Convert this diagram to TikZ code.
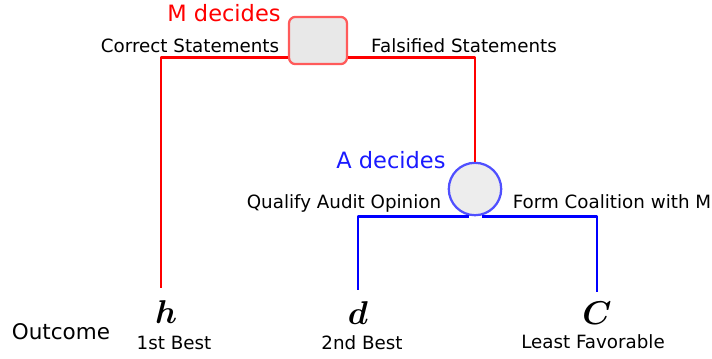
\documentclass[tikz,border=0pt]{standalone}
\usepackage{amsmath}
\usepackage{fontspec}
\setmainfont{DejaVu Sans}
\usepackage{xcolor}
\usepackage{tikz}
\usetikzlibrary{positioning}
\definecolor{mrot}{HTML}{FF0000}
\definecolor{mrand}{HTML}{FF5A5A}
\definecolor{ablau}{HTML}{0000FF}
\definecolor{arand}{HTML}{5050FF}
\definecolor{ftext}{HTML}{1A1AFF}
\tikzset{
  MLinie/.style={draw=mrot,line width=1.9pt,shorten >=#1}, % rote Aeste
  ALinie/.style={draw=ablau,line width=1.9pt,shorten >=#1}, % blaue Aeste
  Beschr/.style={font=\fontsize{13}{15}\selectfont,inner sep=0pt,anchor=base},
  Spieler/.style={font=\fontsize{16}{19}\selectfont,inner sep=0pt,anchor=base},
  Ergebnis/.style={font=\fontsize{20.74}{25}\selectfont,scale=1.13,inner sep=0pt,anchor=base}
}

\begin{document}
\begin{tikzpicture}[x=0.25mm,y=-0.25mm,
line join=round
]
\useasboundingbox (0,0) rectangle (712,358);

%Entscheidungsknoten
\node[draw=mrand,fill=black!9,line width=1.6pt,rounded corners=1.6mm,
  minimum width=14.5mm,minimum height=11.8mm,inner sep=0pt] (M) at (318,40.5) {};
\node[circle,draw=arand,fill=black!7,line width=1.6pt,
  minimum size=13.1mm,inner sep=0pt] (A) at (475,189) {};

\node[Spieler,text=mrot] (Mtxt) at (224,21) {M decides};
\node[Spieler,text=ftext] (Atxt) at (391,168) {A decides};

%Ergebnisse
\node[Ergebnis] (h) at (166,323) {$\boldsymbol{h}$};
\node[Ergebnis] (d) at (358,324) {$\boldsymbol{d}$};
\node[Ergebnis] (C) at (597,324) {$\boldsymbol{C}$};

\node[Beschr,font=\fontsize{15.3}{18}\selectfont] (out) at (61,339) {Outcome};
\node[Beschr] (e1) at (174,349) {1st Best};
\node[Beschr] (e2) at (362,349) {2nd Best};
\node[Beschr] (e3) at (593,348) {Least Favorable};

%Aeste
\draw[MLinie=3.0mm] ([yshift=2mm]M.south west) -| ([xshift=-1.25mm]h.north);
\draw[MLinie=0mm] ([yshift=2mm]M.south east) -| (A.north);
\draw[ALinie=2.6mm] ([xshift=-1.6mm]A.south) -| (d.north);
\draw[ALinie=2.3mm] ([xshift=1.7mm]A.south) -| (C.north);

%Beschriftung der Aeste
\node[Beschr] (l1) at (190,52) {Correct Statements};
\node[Beschr] (l2) at (464,52) {Falsified Statements};
\node[Beschr] (l3) at (344,208) {Qualify Audit Opinion};
\node[Beschr] (l4) at (612,208) {Form Coalition with M};

\end{tikzpicture}
\end{document}
